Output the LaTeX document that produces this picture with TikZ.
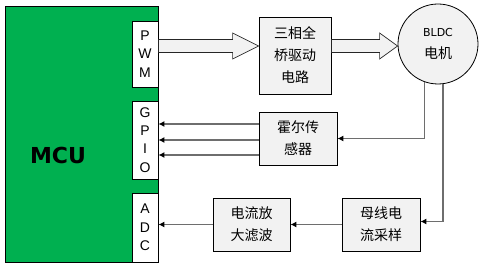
\documentclass[tikz,border=0pt]{standalone}
\usepackage{fontspec}
\setmainfont{Liberation Sans}
\newfontfamily\cjk{Noto Sans CJK SC}
\newfontfamily\dejavu{DejaVu Sans}
\usepackage{tikz}
\usetikzlibrary{arrows.meta,calc}
\definecolor{mcugreen}{HTML}{00B050}
\definecolor{boxgray}{HTML}{F2F2F2}
\definecolor{linegray}{HTML}{6E6E6E}
\tikzset{
  box/.style={draw,fill=boxgray,line width=0.8pt,align=center,font=\cjk\fontsize{14}{22}\selectfont,inner sep=0pt},
  port/.style={draw,fill=white,line width=0.8pt,align=center,font=\fontsize{14}{18.3}\selectfont,inner sep=0pt,minimum width=26pt},
  arr/.style={-{Latex[length=6pt,width=6pt,color=black]},line width=1.3pt,draw=linegray},
  hollow/.style={draw=black!85,fill=boxgray,line width=0.7pt,line join=miter},
}
\newcommand{\hollowarrow}[3]{% from, to, head length
  \draw[hollow] let \p1=(#1), \p2=(#2) in
    (\x1,\y1+6.5pt) -- (\x2-#3,\y1+6.5pt) -- (\x2-#3,\y1+13pt) -- (\x2,\y1)
    -- (\x2-#3,\y1-13pt) -- (\x2-#3,\y1-6.5pt) -- (\x1,\y1-6.5pt) -- cycle;}
\begin{document}
\begin{tikzpicture}[x=1pt,y=-1pt]
\useasboundingbox (0,0) rectangle (480,267);
% MCU block and its ports
\node[draw,fill=mcugreen,line width=0.8pt,minimum width=153pt,minimum height=256pt,inner sep=0pt] (mcu) at (81.5,134) {};
\node[font=\dejavu\bfseries\fontsize{22}{22}\selectfont] (mcutxt) at (58,155) {MCU};
\node[port,minimum height=66pt] (pwm) at (145,54) {P\\W\\M};
\node[port,minimum height=78pt] (gpio) at (145,140) {G\\P\\I\\O};
\node[port,minimum height=69pt] (adc) at (145,227.5) {A\\D\\C};
% function blocks
\node[box,minimum width=72pt,minimum height=77pt] (drive) at (295,55.5) {三相全\\桥驱动\\电路};
\node[draw,circle,fill=boxgray,line width=0.8pt,minimum size=80pt,inner sep=0pt,align=center,
  font=\fontsize{11}{22}\selectfont] (bldc) at (438,44)
  {\dejavu BLDC\\ \cjk\fontsize{14}{22}\selectfont 电机};
\node[box,minimum width=78pt,minimum height=53pt] (hall) at (298,138.5) {霍尔传\\感器};
\node[box,minimum width=78pt,minimum height=53pt] (sample) at (381,224.5) {母线电\\流采样};
\node[box,minimum width=77pt,minimum height=53pt] (filter) at (251.5,224.5) {电流放\\大滤波};
% drive path
\coordinate (axis) at (0,46);
\hollowarrow{pwm.east |- axis}{drive.west |- axis}{26pt}
\hollowarrow{drive.east |- axis}{bldc.west |- axis}{18pt}
% feedback
\draw[arr] (bldc.-110) |- (hall.east);
\foreach \y in {124,140,155}
  \draw[arr] (hall.west |- 0,\y) -- (gpio.east |- 0,\y);
\draw[arr] (bldc.-83) |- ($(sample.east)+(0,-3)$);
\draw[arr] (sample.west) -- (filter.east);
\draw[arr] (filter.west) -- (adc.east |- filter.west);
\end{tikzpicture}
\end{document}
